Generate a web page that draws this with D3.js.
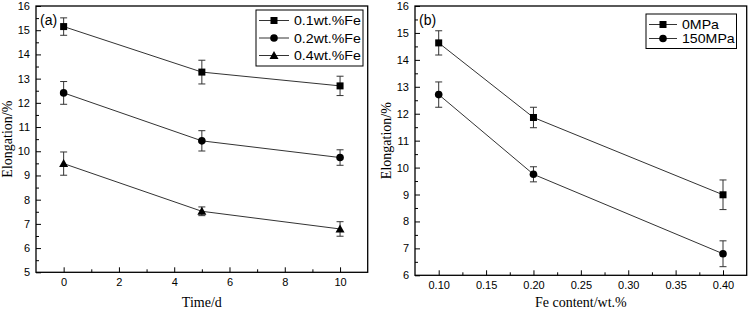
<!DOCTYPE html>
<html>
<head>
<meta charset="utf-8">
<script src="https://cdn.jsdelivr.net/npm/d3@7"></script>
<style>
  body { margin: 0; background: #fff; }
  svg { display: block; }
  .tick text { font-family: "Liberation Sans", Arial, sans-serif; font-size: 11px; fill: #000; }
  .tick line { stroke: #000; stroke-width: 1; }
</style>
</head>
<body>
<div id="chart"></div>
<script>
// panel (a): elongation vs time for three Fe contents
let timeDays = [0, 5, 10];
let seriesA = ['0.1wt.%Fe', '0.2wt.%Fe', '0.4wt.%Fe'];
let elongA = [
    [15.15, 13.27, 12.70],
    [12.41, 10.43, 9.74],
    [9.49, 7.52, 6.79]
];
let errA = [
    [0.36, 0.49, 0.40],
    [0.47, 0.42, 0.32],
    [0.48, 0.18, 0.30]
];
let xTicksA = [0, 2, 4, 6, 8, 10];
let yTicksA = [5, 6, 7, 8, 9, 10, 11, 12, 13, 14, 15, 16];

// panel (b): elongation vs Fe content for two pressures
let feContent = [0.10, 0.20, 0.40];
let seriesB = ['0MPa', '150MPa'];
let elongB = [
    [14.63, 11.86, 8.99],
    [12.71, 9.75, 6.80]
];
let errB = [
    [0.45, 0.38, 0.55],
    [0.47, 0.28, 0.48]
];
let xTicksB = [0.10, 0.15, 0.20, 0.25, 0.30, 0.35, 0.40];
let yTicksB = [6, 7, 8, 9, 10, 11, 12, 13, 14, 15, 16];

let markers = ['square', 'circle', 'triangle'];

let width = 749, height = 314;

let svg = d3.select('#chart').append('svg')
    .attr('width', width)
    .attr('height', height);

function drawMarker(g, type, x, y) {
    if (type === 'square') {
        g.append('rect')
            .attr('x', x - 3.5).attr('y', y - 3.5)
            .attr('width', 7).attr('height', 7)
            .attr('fill', '#000');
    } else if (type === 'circle') {
        g.append('circle')
            .attr('cx', x).attr('cy', y).attr('r', 3.8)
            .attr('fill', '#000');
    } else {
        g.append('path')
            .attr('d', `M${x},${y - 4.5}L${x + 4.5},${y + 3.5}L${x - 4.5},${y + 3.5}Z`)
            .attr('fill', '#000');
    }
}

function drawPanel(p) {
    let xScale = d3.scaleLinear().domain(p.xDomain).range([p.left, p.right]);
    let yScale = d3.scaleLinear().domain(p.yDomain).range([p.bottom, p.top]);
    let g = svg.append('g');

    // minor ticks
    let xMinor = p.xTicks.slice(0, -1).map((d, i) => (d + p.xTicks[i + 1]) / 2);
    xMinor.push(p.xTicks[p.xTicks.length - 1] + (p.xTicks[1] - p.xTicks[0]) / 2);
    xMinor = xMinor.filter(d => d < p.xDomain[1]);
    let yMinor = p.yTicks.slice(0, -1).map((d, i) => (d + p.yTicks[i + 1]) / 2);

    g.append('g')
        .attr('transform', `translate(0, ${p.bottom})`)
        .call(d3.axisBottom(xScale).tickValues(xMinor).tickFormat('').tickSize(-3))
        .call(a => a.select('.domain').remove());
    g.append('g')
        .attr('transform', `translate(${p.left}, 0)`)
        .call(d3.axisLeft(yScale).tickValues(yMinor).tickFormat('').tickSize(-3))
        .call(a => a.select('.domain').remove());

    g.append('g')
        .attr('transform', `translate(0, ${p.bottom})`)
        .call(d3.axisBottom(xScale).tickValues(p.xTicks).tickFormat(p.xFormat).tickSize(-5).tickPadding(6))
        .call(a => a.select('.domain').remove());
    g.append('g')
        .attr('transform', `translate(${p.left}, 0)`)
        .call(d3.axisLeft(yScale).tickValues(p.yTicks).tickSize(-5).tickPadding(6))
        .call(a => a.select('.domain').remove());

    // frame
    g.append('rect')
        .attr('x', p.left).attr('y', p.top)
        .attr('width', p.right - p.left).attr('height', p.bottom - p.top)
        .attr('fill', 'none').attr('stroke', '#000').attr('stroke-width', 1.3);

    let line = d3.line().x((d, i) => xScale(p.xs[i])).y(d => yScale(d));

    p.values.forEach((vals, s) => {
        let sg = g.append('g');
        sg.append('path')
            .attr('d', line(vals))
            .attr('fill', 'none')
            .attr('stroke', '#333')
            .attr('stroke-width', 1);
        vals.forEach((v, i) => {
            let x = xScale(p.xs[i]);
            let y0 = yScale(v + p.errs[s][i]), y1 = yScale(v - p.errs[s][i]);
            sg.append('path')
                .attr('d', `M${x},${y0}V${y1}M${x - 3.5},${y0}H${x + 3.5}M${x - 3.5},${y1}H${x + 3.5}`)
                .attr('stroke', '#333').attr('stroke-width', 1).attr('fill', 'none');
            drawMarker(sg, markers[s], x, yScale(v));
        });
    });

    // panel label
    g.append('text')
        .attr('x', p.left + 4).attr('y', p.top + 19)
        .attr('font-family', '"Liberation Sans", Arial, sans-serif')
        .attr('font-size', 14)
        .text(p.label);

    // legend
    let lg = g.append('g');
    lg.append('rect')
        .attr('x', p.legend.x).attr('y', p.legend.y)
        .attr('width', p.legend.w).attr('height', p.legend.h)
        .attr('fill', '#fff').attr('stroke', '#000').attr('stroke-width', 1);
    p.names.forEach((name, s) => {
        let y = p.legend.y + p.legend.pad + s * p.legend.step;
        let x0 = p.legend.x + 3;
        lg.append('line')
            .attr('x1', x0).attr('x2', x0 + p.legend.lineW)
            .attr('y1', y).attr('y2', y)
            .attr('stroke', '#333').attr('stroke-width', 1);
        drawMarker(lg, markers[s], x0 + p.legend.lineW / 2, y);
        lg.append('text')
            .attr('transform', `translate(${x0 + p.legend.lineW + 5}, ${y + 4.5}) scale(1.18, 1)`)
            .attr('font-family', '"Liberation Sans", Arial, sans-serif')
            .attr('font-size', 12)
            .text(name);
    });

    // axis titles
    g.append('text')
        .attr('x', (p.left + p.right) / 2).attr('y', 307)
        .attr('text-anchor', 'middle')
        .attr('font-family', '"Liberation Serif", "Times New Roman", serif')
        .attr('font-size', 14)
        .text(p.xTitle);
    g.append('text')
        .attr('transform', `translate(${p.yTitleX}, ${(p.top + p.bottom) / 2}) rotate(-90)`)
        .attr('text-anchor', 'middle')
        .attr('font-family', '"Liberation Serif", "Times New Roman", serif')
        .attr('font-size', 14)
        .text('Elongation/%');
}

drawPanel({
    left: 36, right: 367.7, top: 6, bottom: 272.3,
    xDomain: [-1, 11], yDomain: [5, 16],
    xTicks: xTicksA, yTicks: yTicksA, xFormat: d3.format('d'),
    xs: timeDays, values: elongA, errs: errA, names: seriesA,
    label: '(a)', xTitle: 'Time/d', yTitleX: 12,
    legend: {x: 256, y: 10, w: 107, h: 56, pad: 10.5, step: 17.5, lineW: 30}
});

drawPanel({
    left: 415, right: 746.7, top: 6, bottom: 275.3,
    xDomain: [0.075, 0.425], yDomain: [6, 16],
    xTicks: xTicksB, yTicks: yTicksB, xFormat: d3.format('.2f'),
    xs: feContent, values: elongB, errs: errB, names: seriesB,
    label: '(b)', xTitle: 'Fe content/wt.%', yTitleX: 391,
    legend: {x: 646, y: 14, w: 90.5, h: 34.5, pad: 10.5, step: 14, lineW: 28}
});
</script>
</body>
</html>
